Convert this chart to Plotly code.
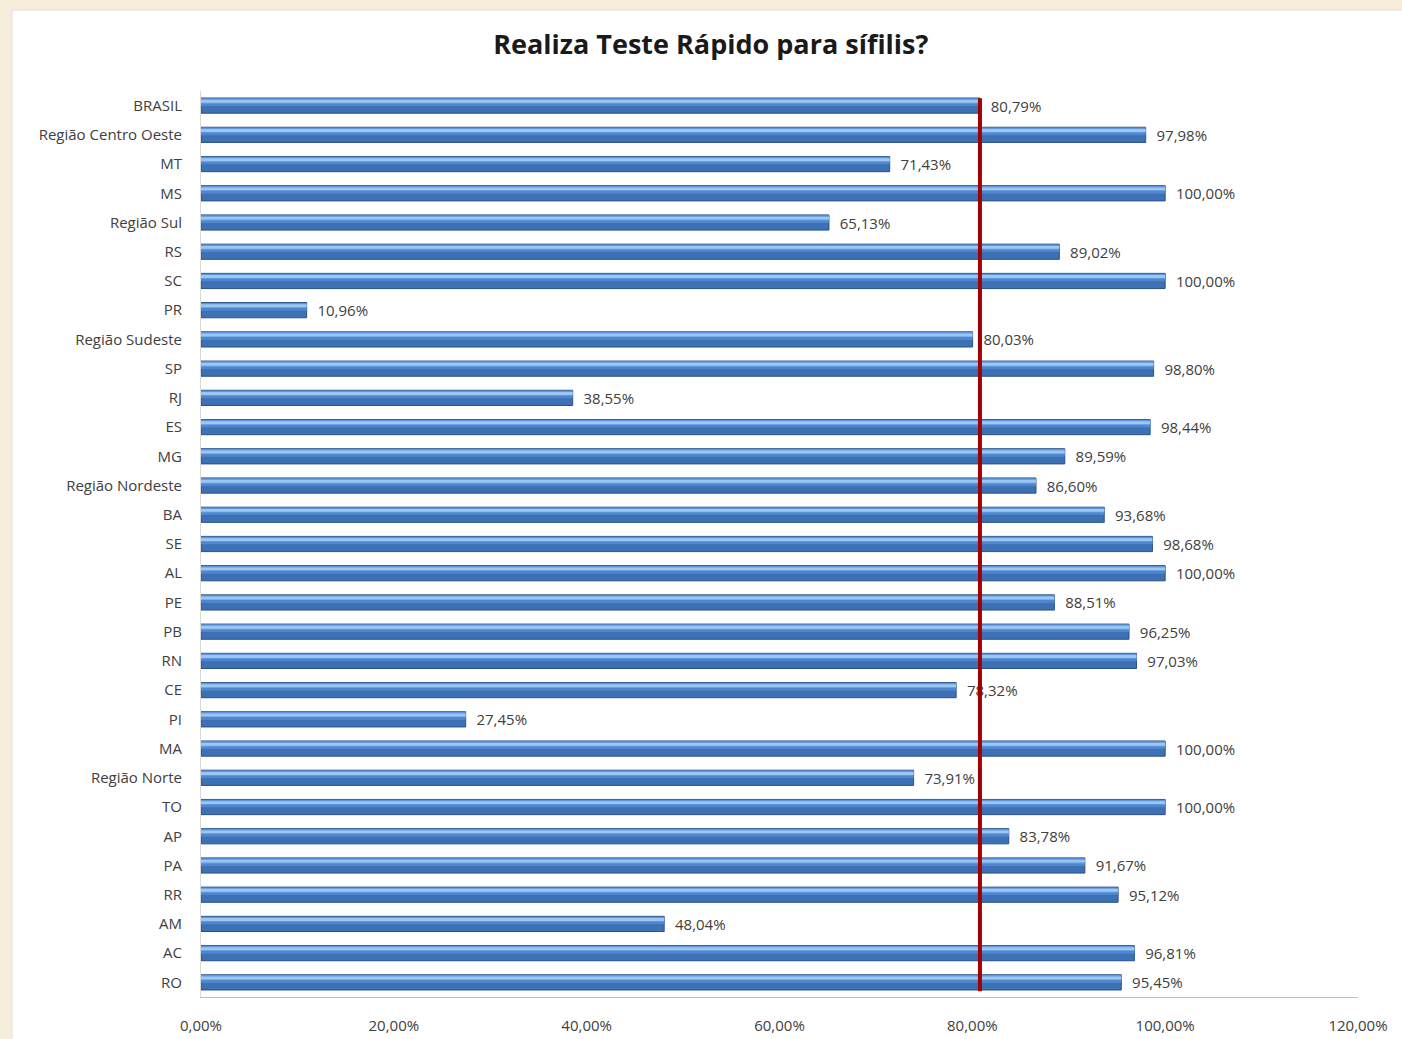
import plotly.graph_objects as go

categories = [
    "BRASIL", "Região Centro Oeste", "MT", "MS", "Região Sul", "RS", "SC", "PR",
    "Região Sudeste", "SP", "RJ", "ES", "MG", "Região Nordeste", "BA", "SE", "AL",
    "PE", "PB", "RN", "CE", "PI", "MA", "Região Norte", "TO", "AP", "PA", "RR",
    "AM", "AC", "RO",
]
values = [
    80.79, 97.98, 71.43, 100.00, 65.13, 89.02, 100.00, 10.96,
    80.03, 98.80, 38.55, 98.44, 89.59, 86.60, 93.68, 98.68, 100.00,
    88.51, 96.25, 97.03, 78.32, 27.45, 100.00, 73.91, 100.00, 83.78,
    91.67, 95.12, 48.04, 96.81, 95.45,
]
x_ticks = [0, 0.2, 0.4, 0.6, 0.8, 1.0, 1.2]

shares = [v / 100 for v in values]
brasil = shares[categories.index("BRASIL")]
FONT = "Open Sans, sans-serif"

fig = go.Figure()

# dark body of each "cylinder" bar, carries the value label
fig.add_trace(
    go.Bar(
        y=categories,
        x=shares,
        orientation="h",
        width=0.52,
        marker=dict(color="#3d71b5", line=dict(color="#2a5186", width=1)),
        text=["  " + f"{v:.2f}%".replace(".", ",") for v in values],
        textposition="outside",
        constraintext="none",
        textfont=dict(size=15, color="#404040", family=FONT),
        cliponaxis=False,
        showlegend=False,
        hoverinfo="skip",
    )
)
# lighter upper half and highlight stripe give the rounded look
for w, off, col in [(0.25, -0.25, "#5e96dc"), (0.1, -0.2, "#9cc7f2"), (0.06, -0.05, "#5086cc")]:
    fig.add_trace(
        go.Bar(
            y=categories,
            x=shares,
            orientation="h",
            width=w,
            offset=off,
            marker=dict(color=col, line=dict(width=0)),
            showlegend=False,
            hoverinfo="skip",
        )
    )

# white panel on beige page, in paper coords derived from pixel positions
plot_l, plot_r, plot_t, plot_b = 201, 1358, 91, 997
def px_x(p):
    return (p - plot_l) / (plot_r - plot_l)
def px_y(p):
    return (plot_b - p) / (plot_b - plot_t)

fig.update_layout(
    width=1402,
    height=1039,
    margin=dict(l=plot_l, r=1402 - plot_r, t=plot_t, b=1039 - plot_b),
    paper_bgcolor="#f6eedb",
    plot_bgcolor="rgba(0,0,0,0)",
    barmode="overlay",
    separators=",.",
    title=dict(
        text="<b>Realiza Teste Rápido para sífilis?</b>",
        x=0.507,
        xanchor="center",
        y=0.957,
        yanchor="middle",
        font=dict(size=27, color="#1a1a1a", family=FONT),
    ),
    font=dict(family=FONT, color="#404040", size=15),
    shapes=[
        dict(
            type="rect", xref="paper", yref="paper", layer="below",
            x0=px_x(12), x1=px_x(1410), y0=px_y(1045), y1=px_y(10),
            fillcolor="white", line=dict(color="#e6e0d4", width=1),
        ),
        dict(
            type="line", xref="x", yref="y",
            x0=brasil, x1=brasil, y0=-0.25, y1=len(categories) - 0.7,
            line=dict(color="#a00000", width=4),
        ),
    ],
    xaxis=dict(
        range=[0, 1.2],
        tickvals=x_ticks,
        tickformat=".2%",
        showgrid=False,
        zeroline=False,
        showline=True,
        linecolor="#bfbfbf",
        linewidth=1,
        ticks="outside",
        ticklen=15,
        tickcolor="rgba(0,0,0,0)",
        tickfont=dict(size=15, color="#404040"),
        automargin=False,
    ),
    yaxis=dict(
        autorange="reversed",
        showgrid=False,
        zeroline=False,
        showline=True,
        linecolor="#d9d9d9",
        linewidth=1,
        ticks="outside",
        ticklen=15,
        tickcolor="rgba(0,0,0,0)",
        tickfont=dict(size=15, color="#404040"),
        automargin=False,
    ),
)

fig.write_html(
    "out.html",
    config={"displayModeBar": False},
    post_script="document.body.style.margin='0';document.body.style.background='#f6eedb';",
)
